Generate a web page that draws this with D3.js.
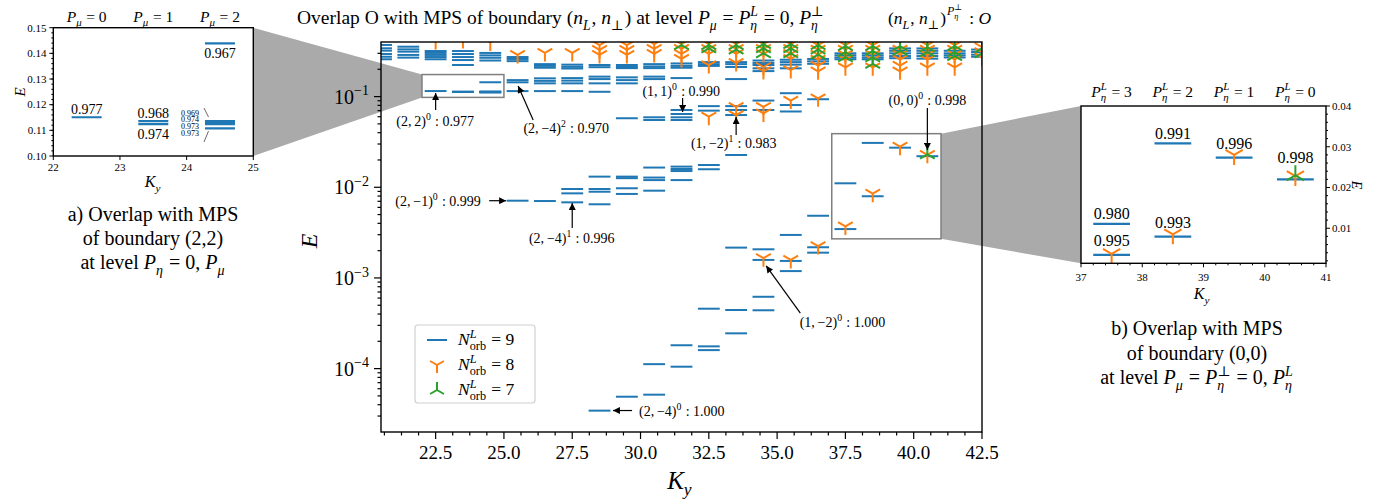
<!DOCTYPE html>
<html>
<head>
<meta charset="utf-8">
<script src="https://cdn.jsdelivr.net/npm/d3@7/dist/d3.min.js"></script>
<style>
  body { margin: 0; background: #fff; }
  svg text { font-family: "Liberation Serif", "DejaVu Serif", serif; fill: #000; white-space: pre; }
</style>
</head>
<body>
<svg id="chart" width="1382" height="499"></svg>
<script>
// ---- values ----
const kyCols = [20.5, 21.5, 22.5, 23.5, 24.5, 25.5, 26.5, 27.5, 28.5, 29.5, 30.5, 31.5,
                32.5, 33.5, 34.5, 35.5, 36.5, 37.5, 38.5, 39.5, 40.5, 41.5, 42.5];

// N_orb^L = 9 (one list of energies per Ky column)
const levelsN9 = [
  [0.371, 0.341, 0.321, 0.295, 0.275, 0.258],
  [0.355, 0.332, 0.313, 0.288, 0.269],
  [0.318, 0.303, 0.288, 0.273, 0.258, 0.1151],
  [0.318, 0.295, 0.273, 0.253, 0.223, 0.1136, 0.1124],
  [0.303, 0.285, 0.268, 0.250, 0.1439, 0.1136, 0.1130, 0.1124, 0.1108],
  [0.273, 0.260, 0.246, 0.152, 0.1437, 0.1150, 0.00711],
  [0.228, 0.218, 0.208, 0.159, 0.149, 0.140, 0.1150, 0.00705],
  [0.225, 0.213, 0.204, 0.160, 0.150, 0.140, 0.1150, 0.00957, 0.00857, 0.00682],
  [0.223, 0.211, 0.166, 0.156, 0.140, 0.113, 0.0131, 0.00957, 0.00893, 0.00649, 3.44e-5],
  [0.223, 0.212, 0.206, 0.163, 0.152, 0.140, 0.0577, 0.0131, 0.0126, 0.00975, 0.00844, 4.9e-5],
  [0.228, 0.215, 0.206, 0.166, 0.156, 0.0591, 0.0552, 0.0165, 0.0128, 0.0120, 0.00917, 1.12e-4, 5.16e-5],
  [0.232, 0.218, 0.208, 0.160, 0.0711, 0.0643, 0.0591, 0.0552, 0.0169, 0.0159, 0.0151, 0.0120, 1.81e-4, 1.05e-4],
  [0.240, 0.228, 0.218, 0.0785, 0.0700, 0.0176, 0.0158, 4.58e-4, 1.76e-4, 1.60e-4],
  [0.240, 0.228, 0.212, 0.156, 0.0785, 0.0711, 0.0626, 0.0227, 0.00216, 4.43e-4, 2.45e-4],
  [0.250, 0.235, 0.223, 0.205, 0.191, 0.0904, 0.0711, 0.00207, 0.00158, 6.2e-4, 4.4e-4],
  [0.255, 0.240, 0.225, 0.205, 0.109, 0.0807, 0.0685, 0.00298, 0.00154, 0.00119],
  [0.260, 0.245, 0.230, 0.0935, 0.00485, 0.00218, 0.00190],
  [0.300, 0.285, 0.270, 0.258, 0.01106, 0.00346],
  [0.300, 0.285, 0.270, 0.258, 0.03085, 0.00796],
  [0.340, 0.320, 0.300, 0.280, 0.265, 0.02733],
  [0.340, 0.320, 0.300, 0.280, 0.262, 0.0220],
  [0.320, 0.300, 0.285, 0.270],
  [0.330, 0.310, 0.290, 0.275]
];

// N_orb^L = 8
const levelsN8 = [
  [], [], [0.41], [0.42], [0.395], [0.288], [0.303], [0.303],
  [0.37, 0.327, 0.288],
  [0.37, 0.327, 0.288],
  [0.38, 0.335, 0.295],
  [0.38, 0.335, 0.295, 0.26],
  [0.38, 0.335, 0.295, 0.223, 0.060],
  [0.38, 0.335, 0.295, 0.235, 0.077, 0.0626],
  [0.38, 0.335, 0.295, 0.212, 0.191, 0.077, 0.0652, 0.00165],
  [0.38, 0.335, 0.295, 0.26, 0.196, 0.0904, 0.00158],
  [0.37, 0.33, 0.29, 0.255, 0.22, 0.19, 0.0958, 0.00225],
  [0.37, 0.33, 0.29, 0.255, 0.21, 0.0037],
  [0.37, 0.33, 0.29, 0.255, 0.21, 0.0085],
  [0.33, 0.29, 0.255, 0.22, 0.19, 0.0280],
  [0.37, 0.33, 0.29, 0.255, 0.21, 0.0228],
  [0.37, 0.33, 0.29, 0.255, 0.21],
  [0.35, 0.31, 0.27]
];

// N_orb^L = 7
const levelsN7 = [
  [], [], [], [], [], [], [], [], [], [], [],
  [0.37],
  [0.37, 0.34],
  [0.37, 0.33],
  [0.38, 0.34, 0.30],
  [0.38, 0.34, 0.30],
  [0.37, 0.33, 0.29],
  [0.36, 0.31, 0.27],
  [0.36, 0.32, 0.27, 0.23],
  [0.36, 0.32],
  [0.35, 0.31, 0.0230],
  [0.36, 0.31, 0.28],
  [0.34, 0.30]
];

// annotations of the main panel
const annState   = ["(2,\u20092)", "(2,\u2009\u22124)", "(1,\u20091)", "(1,\u2009\u22122)", "(0,\u20090)",
                    "(2,\u2009\u22121)", "(2,\u2009\u22124)", "(1,\u2009\u22122)", "(2,\u2009\u22124)"];
const annPower   = ["0", "2", "0", "1", "0", "0", "1", "0", "0"];
const annOverlap = ["0.977", "0.970", "0.990", "0.983", "0.998", "0.999", "0.996", "1.000", "1.000"];
const annHead = [[22.5, 0.1096], [25.52, 0.131], [31.54, 0.0676], [33.5, 0.0596], [40.5, 0.0258],
                 [25.08, 0.00711], [27.5, 0.0067], [34.6, 0.00136], [28.99, 3.45e-5]];
const annTail = [[22.5, 0.0711], [26.07, 0.0552], [31.54, 0.0965], [33.5, 0.0377], [40.5, 0.0748],
                 [24.46, 0.00711], [27.5, 0.00356], [35.85, 4.1e-4], [29.69, 3.45e-5]];
const annText = [[22.48, 0.0538], [27.28, 0.0451], [31.49, 0.115], [33.41, 0.0308], [40.5, 0.0916],
                 [22.59, 0.00711], [27.48, 0.00278], [37.39, 3.27e-4], [31.51, 3.45e-5]];

// inset a) overlaps
const insetAKy    = [22.5, 23.5, 23.5, 24.5, 24.5, 24.5, 24.5, 24.5];
const insetAE     = [0.1151, 0.1136, 0.1124, 0.1439, 0.1136, 0.1130, 0.1124, 0.1108];
const insetAText  = ["0.977", "0.968", "0.974", "0.967", "0.969", "0.974", "0.973", "0.973"];
const insetAPlace = ["above", "above", "below", "below", "side", "side", "side", "side"];
const insetATitles = ["0", "1", "2"];

// inset b) overlaps
const insetBKy   = [37.5, 37.5, 38.5, 38.5, 39.5, 40.5];
const insetBE    = [0.01106, 0.00346, 0.03085, 0.00796, 0.02733, 0.0220];
const insetBText = ["0.980", "0.995", "0.991", "0.993", "0.996", "0.998"];
const insetBTitles = ["3", "2", "1", "0"];

// axis ticks
const xMainTicks = [22.5, 25, 27.5, 30, 32.5, 35, 37.5, 40, 42.5];
const yMainTicks = [1e-4, 1e-3, 1e-2, 1e-1];
const yMainExp   = ["\u22124", "\u22123", "\u22122", "\u22121"];
const xATicks = [22, 23, 24, 25];
const yATicks = [0.10, 0.11, 0.12, 0.13, 0.14, 0.15];
const xBTicks = [37, 38, 39, 40, 41];
const yBTicks = [0.01, 0.02, 0.03, 0.04];
const legendLabels = ["9", "8", "7"];

// ---- drawing ----
const BLUE = "#1f77b4", ORANGE = "#ff7f0e", GREEN = "#2ca02c";
const svg = d3.select("#chart");
const defs = svg.append("defs");

const x = d3.scaleLinear().domain([20.5, 42.5]).range([381, 982]);
const y = d3.scaleLog().domain([2e-5, 0.4]).range([432, 42]);
const xA = d3.scaleLinear().domain([22, 25]).range([53.3, 253.3]);
const yA = d3.scaleLinear().domain([0.10, 0.15]).range([156, 27.7]);
const xB = d3.scaleLinear().domain([37, 41]).range([1081, 1326]);
const yB = d3.scaleLinear().domain([0.0014, 0.04]).range([263.3, 106]);

const rectA = {ky: [22, 25], e: [0.098, 0.175]};
const rectB = {ky: [37, 41], e: [0.0027, 0.039]};

function flat(levels) {
  return kyCols.flatMap((k, i) => levels[i].map(e => ({k, e})));
}
const pts9 = flat(levelsN9), pts8 = flat(levelsN8), pts7 = flat(levelsN7);

function triDown(r) { return `M0,0L0,${r}M0,0L${-0.866*r},${-0.5*r}M0,0L${0.866*r},${-0.5*r}`; }
function triUp(r) { return `M0,0L0,${-r}M0,0L${-0.866*r},${0.5*r}M0,0L${0.866*r},${0.5*r}`; }

// text with italic parts, sub and superscripts
function rich(parent, px, py, tokens, size, anchor, subDrop) {
  const g = parent.append("g");
  const drop = subDrop === undefined ? 0.3 : subDrop;
  let cx = 0;
  tokens.forEach(tk => {
    if (typeof tk === "string") tk = {t: tk};
    const t = g.append("text").attr("x", cx).attr("y", 0)
      .style("font-size", size + "px").style("font-style", tk.i ? "italic" : "normal").text(tk.t);
    cx += t.node().getComputedTextLength();
    let w = 0;
    if (tk.sup) {
      const s = g.append("text").attr("x", cx).attr("y", -size * 0.42)
        .style("font-size", size * 0.7 + "px").style("font-style", tk.sup.i ? "italic" : "normal").text(tk.sup.t);
      w = Math.max(w, s.node().getComputedTextLength());
    }
    if (tk.sub) {
      const s = g.append("text").attr("x", cx).attr("y", size * drop)
        .style("font-size", size * 0.7 + "px").style("font-style", tk.sub.i ? "italic" : "normal").text(tk.sub.t);
      w = Math.max(w, s.node().getComputedTextLength());
    }
    cx += w + (w ? size * 0.05 : 0);
  });
  const off = anchor === "middle" ? -cx / 2 : anchor === "end" ? -cx : 0;
  g.attr("transform", `translate(${px + off},${py})`);
  return cx;
}

function clip(id, x0, y0, x1, y1) {
  defs.append("clipPath").attr("id", id).append("rect")
    .attr("x", x0).attr("y", y0).attr("width", x1 - x0).attr("height", y1 - y0);
}
function frame(g, sx, sy) {
  g.append("rect").attr("x", sx.range()[0]).attr("y", sy.range()[1])
    .attr("width", sx.range()[1] - sx.range()[0]).attr("height", sy.range()[0] - sy.range()[1])
    .attr("fill", "none").attr("stroke", "#000").attr("stroke-width", 1.4);
}
function dashes(g, pts, sx, sy, half, sw) {
  g.selectAll(null).data(pts).enter().append("line")
    .attr("x1", d => sx(d.k - half)).attr("x2", d => sx(d.k + half))
    .attr("y1", d => sy(d.e)).attr("y2", d => sy(d.e))
    .attr("stroke", BLUE).attr("stroke-width", sw);
}
function markers(g, pts, sx, sy, path, color) {
  g.selectAll(null).data(pts).enter().append("path")
    .attr("transform", d => `translate(${sx(d.k)},${sy(d.e)})`)
    .attr("d", path).attr("fill", "none").attr("stroke", color).attr("stroke-width", 2);
}

// connecting wedges
svg.append("polygon").attr("fill", "#aaaaaa")
  .attr("points", [[xA.range()[1], yA.range()[1]], [x(rectA.ky[0]), y(rectA.e[1])],
                   [x(rectA.ky[0]), y(rectA.e[0])], [xA.range()[1], yA.range()[0]]].join(" "));
svg.append("polygon").attr("fill", "#aaaaaa")
  .attr("points", [[x(rectB.ky[1]), y(rectB.e[1])], [xB.range()[0], yB.range()[1]],
                   [xB.range()[0], yB.range()[0]], [x(rectB.ky[1]), y(rectB.e[0])]].join(" "));

// main panel
clip("clipMain", 381, 42, 982, 432);
const plot = svg.append("g").attr("clip-path", "url(#clipMain)");
dashes(plot, pts9, x, y, 0.4, 2);
markers(plot, pts8, x, y, triDown(8.5), ORANGE);
markers(plot, pts7, x, y, triUp(8.5), GREEN);

[rectA, rectB].forEach(r => {
  svg.append("rect").attr("x", x(r.ky[0])).attr("y", y(r.e[1]))
    .attr("width", x(r.ky[1]) - x(r.ky[0])).attr("height", y(r.e[0]) - y(r.e[1]))
    .attr("fill", "none").attr("stroke", "#7f7f7f").attr("stroke-width", 1.5);
});

const axes = svg.append("g").attr("stroke", "#000").attr("stroke-width", 1.2);
xMainTicks.forEach(v => axes.append("line").attr("x1", x(v)).attr("x2", x(v)).attr("y1", 432).attr("y2", 439));
d3.range(20.625, 42.5, 0.625).filter(v => Math.abs((v / 2.5) - Math.round(v / 2.5)) > 0.01)
  .forEach(v => axes.append("line").attr("x1", x(v)).attr("x2", x(v)).attr("y1", 432).attr("y2", 435.5));
yMainTicks.forEach(v => axes.append("line").attr("x1", 374).attr("x2", 381).attr("y1", y(v)).attr("y2", y(v)));
[-5, -4, -3, -2, -1].forEach(p => d3.range(2, 10).forEach(m => {
  const v = m * Math.pow(10, p);
  if (v > 2e-5 && v < 0.4) axes.append("line").attr("x1", 377.5).attr("x2", 381).attr("y1", y(v)).attr("y2", y(v));
}));
frame(svg, x, y);

xMainTicks.forEach(v => svg.append("text").attr("x", x(v)).attr("y", 459).attr("text-anchor", "middle")
  .style("font-size", "19px").text(d3.format(".1f")(v)));
yMainTicks.forEach((v, i) => rich(svg, 370, y(v) + 7, [{t: "10", sup: {t: yMainExp[i]}}], 20, "end"));
rich(svg, 680, 489, [{t: "K", i: true, sub: {t: "y", i: true}}], 25, "middle", 0.22);
svg.append("text").attr("transform", "translate(317,241) rotate(-90)").attr("text-anchor", "middle")
  .style("font-size", "24px").style("font-style", "italic").text("E");

// title
const tw = rich(svg, 297, 24, ["Overlap O with MPS of boundary (", {t: "n", i: true, sub: {t: "L", i: true}}, ", ",
  {t: "n", i: true, sub: {t: "\u22a5"}}, ") at level ", {t: "P", i: true, sub: {t: "\u03bc", i: true}}, " = ",
  {t: "P", i: true, sup: {t: "L", i: true}, sub: {t: "\u03b7", i: true}}, " = 0, ",
  {t: "P", i: true, sup: {t: "\u22a5"}, sub: {t: "\u03b7", i: true}}], 19.5, "start");
const t2 = rich(svg, 888, 24, ["(", {t: "n", i: true, sub: {t: "L", i: true}}, ", ",
  {t: "n", i: true, sub: {t: "\u22a5"}}, ")"], 17.5, "start");
const t3 = rich(svg, 888 + t2 + 1, 15, [{t: "P", i: true, sup: {t: "\u22a5"}, sub: {t: "\u03b7", i: true}}], 12, "start");
rich(svg, 888 + t2 + t3 + 3, 24, [" : ", {t: "O", i: true}], 17.5, "start");

// annotations
defs.append("marker").attr("id", "arrow").attr("viewBox", "0 0 10 10").attr("refX", 10).attr("refY", 5)
  .attr("markerWidth", 9).attr("markerHeight", 7).attr("markerUnits", "userSpaceOnUse").attr("orient", "auto")
  .append("path").attr("d", "M0,0L10,5L0,10z").attr("fill", "#000");
annState.forEach((s, i) => {
  svg.append("line").attr("x1", x(annTail[i][0])).attr("y1", y(annTail[i][1]))
    .attr("x2", x(annHead[i][0])).attr("y2", y(annHead[i][1]))
    .attr("stroke", "#000").attr("stroke-width", 1.2).attr("marker-end", "url(#arrow)");
  rich(svg, x(annText[i][0]), y(annText[i][1]) + 5, [{t: s, sup: {t: annPower[i]}}, " : " + annOverlap[i]], 14, "middle");
});

// legend
const leg = svg.append("g");
leg.append("rect").attr("x", 415).attr("y", 325).attr("width", 120).attr("height", 78).attr("rx", 3)
  .attr("fill", "#fff").attr("fill-opacity", 0.85).attr("stroke", "#d0d0d0").attr("stroke-width", 1.2);
legendLabels.forEach((lab, i) => {
  const ry = 340 + i * 25;
  if (i === 0) leg.append("line").attr("x1", 427).attr("x2", 447).attr("y1", ry).attr("y2", ry)
    .attr("stroke", BLUE).attr("stroke-width", 2);
  else leg.append("path").attr("transform", `translate(437,${ry})`)
    .attr("d", i === 1 ? triDown(8) : triUp(8)).attr("fill", "none")
    .attr("stroke", i === 1 ? ORANGE : GREEN).attr("stroke-width", 2);
  rich(leg, 458, ry + 5, [{t: "N", i: true, sup: {t: "L", i: true}, sub: {t: "orb"}}, " = " + lab], 17.5, "start");
});

// ---- inset a) ----
const ga = svg.append("g");
ga.append("rect").attr("x", 53.3).attr("y", 27.7).attr("width", 200).attr("height", 128.3).attr("fill", "#fff");
clip("clipA", 53.3, 27.7, 253.3, 156);
const pa = ga.append("g").attr("clip-path", "url(#clipA)");
dashes(pa, pts9.filter(d => d.k > 22 && d.k < 25 && d.e >= 0.1 && d.e <= 0.15), xA, yA, 0.225, 2.2);
frame(ga, xA, yA);
const axA = ga.append("g").attr("stroke", "#000").attr("stroke-width", 1);
yATicks.forEach(v => axA.append("line").attr("x1", 49.3).attr("x2", 53.3).attr("y1", yA(v)).attr("y2", yA(v)));
d3.range(0.102, 0.15, 0.002).forEach(v => axA.append("line").attr("x1", 51.3).attr("x2", 53.3).attr("y1", yA(v)).attr("y2", yA(v)));
xATicks.forEach(v => axA.append("line").attr("x1", xA(v)).attr("x2", xA(v)).attr("y1", 156).attr("y2", 160));
yATicks.forEach(v => ga.append("text").attr("x", 46.5).attr("y", yA(v) + 3.8).attr("text-anchor", "end")
  .style("font-size", "11px").text(d3.format(".2f")(v)));
xATicks.forEach(v => ga.append("text").attr("x", xA(v)).attr("y", 170.5).attr("text-anchor", "middle")
  .style("font-size", "11px").text(v));
insetATitles.forEach((t, i) => rich(ga, xA(22.5 + i), 21.5, [{t: "P", i: true, sub: {t: "\u03bc", i: true}}, " = " + t], 15.5, "middle"));
rich(ga, 153, 187, [{t: "K", i: true, sub: {t: "y", i: true}}], 16, "middle");
ga.append("text").attr("transform", "translate(25,92) rotate(-90)").attr("text-anchor", "middle")
  .style("font-size", "15px").style("font-style", "italic").text("E");

const sideIdx = insetAPlace.map((p, i) => p === "side" ? i : -1).filter(i => i >= 0);
const sideMid = d3.mean(sideIdx, i => yA(insetAE[i])) - 1;
insetAText.forEach((t, i) => {
  const cx = xA(insetAKy[i]), cy = yA(insetAE[i]);
  if (insetAPlace[i] === "above") ga.append("text").attr("x", cx).attr("y", cy - 3).attr("text-anchor", "middle").style("font-size", "14px").text(t);
  else if (insetAPlace[i] === "below") ga.append("text").attr("x", cx).attr("y", cy + 14.5).attr("text-anchor", "middle").style("font-size", "14px").text(t);
  else {
    const j = sideIdx.indexOf(i);
    ga.append("text").attr("x", 190).attr("y", sideMid + (j - 1.5) * 6.9 + 2.8).attr("text-anchor", "middle").style("font-size", "8px").text(t);
  }
});
ga.append("line").attr("x1", 204).attr("y1", sideMid - 15).attr("x2", 208.5).attr("y2", sideMid - 6).attr("stroke", "#444").attr("stroke-width", 0.8);
ga.append("line").attr("x1", 204).attr("y1", sideMid + 19).attr("x2", 208.5).attr("y2", sideMid + 8).attr("stroke", "#444").attr("stroke-width", 0.8);

[["a) Overlap with MPS"], ["of boundary (2,2)"]].forEach((l, i) => svg.append("text").attr("x", 153).attr("y", 221 + i * 24)
  .attr("text-anchor", "middle").style("font-size", "20px").text(l[0]));
rich(svg, 153, 269, ["at level ", {t: "P", i: true, sub: {t: "\u03b7", i: true}}, " = 0, ", {t: "P", i: true, sub: {t: "\u03bc", i: true}}], 20, "middle");

// ---- inset b) ----
const gb = svg.append("g");
gb.append("rect").attr("x", 1081).attr("y", 106).attr("width", 245).attr("height", 157.3).attr("fill", "#fff");
clip("clipB", 1081, 106, 1326, 263.3);
const pb = gb.append("g").attr("clip-path", "url(#clipB)");
const inB = d => d.k > 37 && d.k < 41 && d.e >= 0.0014 && d.e <= 0.04;
dashes(pb, pts9.filter(inB), xB, yB, 0.3, 2.2);
markers(pb, pts8.filter(inB), xB, yB, triDown(10), ORANGE);
markers(pb, pts7.filter(inB), xB, yB, triUp(10), GREEN);
frame(gb, xB, yB);
const axB = gb.append("g").attr("stroke", "#000").attr("stroke-width", 1);
yBTicks.forEach(v => axB.append("line").attr("x1", 1326).attr("x2", 1330).attr("y1", yB(v)).attr("y2", yB(v)));
d3.range(0.002, 0.04, 0.002).filter(v => Math.abs(v * 100 - Math.round(v * 100)) > 0.01)
  .forEach(v => axB.append("line").attr("x1", 1326).attr("x2", 1328).attr("y1", yB(v)).attr("y2", yB(v)));
xBTicks.forEach(v => axB.append("line").attr("x1", xB(v)).attr("x2", xB(v)).attr("y1", 263.3).attr("y2", 267.3));
d3.range(37.2, 41, 0.2).filter(v => Math.abs(v - Math.round(v)) > 0.01)
  .forEach(v => axB.append("line").attr("x1", xB(v)).attr("x2", xB(v)).attr("y1", 263.3).attr("y2", 265.3));
yBTicks.forEach(v => gb.append("text").attr("x", 1332).attr("y", yB(v) + 3.8)
  .style("font-size", "11px").text(d3.format(".2f")(v)));
xBTicks.forEach(v => gb.append("text").attr("x", xB(v)).attr("y", 280.5).attr("text-anchor", "middle")
  .style("font-size", "11px").text(v));
insetBTitles.forEach((t, i) => rich(gb, xB(37.5 + i), 96.5,
  [{t: "P", i: true, sup: {t: "L", i: true}, sub: {t: "\u03b7", i: true}}, " = " + t], 15.5, "middle"));
rich(gb, 1202, 299, [{t: "K", i: true, sub: {t: "y", i: true}}], 16, "middle");
gb.append("text").attr("transform", "translate(1352,185) rotate(90)").attr("text-anchor", "middle")
  .style("font-size", "14px").style("font-style", "italic").text("E");
insetBText.forEach((t, i) => {
  const near = (arr) => arr.some(d => d.k === insetBKy[i] && Math.abs(d.e - insetBE[i]) / insetBE[i] < 0.2);
  const lift = near(pts7) ? 22 : near(pts8) ? 14.5 : 10;
  gb.append("text").attr("x", xB(insetBKy[i])).attr("y", yB(insetBE[i]) - lift + 5.5)
    .attr("text-anchor", "middle").style("font-size", "16px").text(t);
});

[["b) Overlap with MPS"], ["of boundary (0,0)"]].forEach((l, i) => svg.append("text").attr("x", 1197).attr("y", 335 + i * 24.5)
  .attr("text-anchor", "middle").style("font-size", "20px").text(l[0]));
rich(svg, 1197, 384, ["at level ", {t: "P", i: true, sub: {t: "\u03bc", i: true}}, " = ",
  {t: "P", i: true, sup: {t: "\u22a5"}, sub: {t: "\u03b7", i: true}}, " = 0, ",
  {t: "P", i: true, sup: {t: "L", i: true}, sub: {t: "\u03b7", i: true}}], 20, "middle");
</script>
</body>
</html>
